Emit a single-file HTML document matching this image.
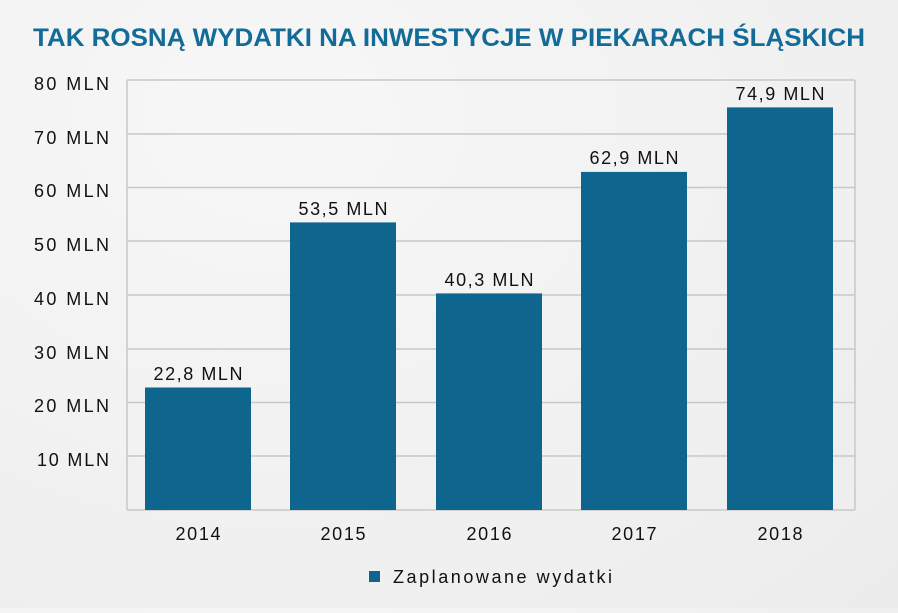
<!DOCTYPE html>
<html><head><meta charset="utf-8"><style>
body{margin:0;width:898px;height:608px;background:radial-gradient(ellipse at 30% 20%,#f7f7f7,#ececec);font-family:"Liberation Sans",sans-serif;overflow:hidden}
</style></head><body>
<svg width="898" height="608" xmlns="http://www.w3.org/2000/svg" font-family="Liberation Sans, sans-serif">
<text x="33" y="46" font-size="25" font-weight="bold" fill="#136c98" textLength="832" lengthAdjust="spacingAndGlyphs">TAK ROSNĄ WYDATKI NA INWESTYCJE W PIEKARACH ŚLĄSKICH</text>
<g stroke="#c8c8c8" stroke-width="1.5">
<line x1="127" y1="80" x2="855" y2="80"/><line x1="127" y1="134" x2="855" y2="134"/>
<line x1="127" y1="187.5" x2="855" y2="187.5"/><line x1="127" y1="241" x2="855" y2="241"/>
<line x1="127" y1="295" x2="855" y2="295"/><line x1="127" y1="349" x2="855" y2="349"/>
<line x1="127" y1="402.5" x2="855" y2="402.5"/><line x1="127" y1="456" x2="855" y2="456"/>
<line x1="127" y1="510" x2="855" y2="510"/>
<line x1="127" y1="80" x2="127" y2="510"/><line x1="855" y1="80" x2="855" y2="510"/>
</g>
<g font-size="18" fill="#111">
<text x="34" y="90" textLength="75">80 MLN</text><text x="34" y="144" textLength="75">70 MLN</text><text x="34" y="197" textLength="75">60 MLN</text>
<text x="34" y="251" textLength="75">50 MLN</text><text x="34" y="305" textLength="75">40 MLN</text><text x="34" y="359" textLength="75">30 MLN</text>
<text x="34" y="412" textLength="75">20 MLN</text><text x="37" y="466" textLength="72">10 MLN</text>
</g>
<g font-size="18" fill="#111" text-anchor="middle">
<text x="198" y="380" textLength="89">22,8 MLN</text><text x="343" y="215" textLength="89">53,5 MLN</text>
<text x="489" y="286" textLength="89">40,3 MLN</text><text x="634" y="164" textLength="89">62,9 MLN</text>
<text x="780" y="100" textLength="89">74,9 MLN</text>
<text x="198" y="540" textLength="45">2014</text><text x="343" y="540" textLength="45">2015</text><text x="489" y="540" textLength="45">2016</text>
<text x="634" y="540" textLength="45">2017</text><text x="780" y="540" textLength="45">2018</text>
</g>
<g fill="#0e668f">
<rect x="145" y="387.5" width="106" height="122.5"/>
<rect x="290" y="222.4" width="106" height="287.6"/>
<rect x="436" y="293.4" width="106" height="216.6"/>
<rect x="581" y="171.9" width="106" height="338.1"/>
<rect x="727" y="107.4" width="106" height="402.6"/>
</g>
<rect x="369" y="571" width="11" height="11" fill="#0e668f"/>
<text x="393" y="583" font-size="18" fill="#111" textLength="219">Zaplanowane wydatki</text>
</svg>
</body></html>
